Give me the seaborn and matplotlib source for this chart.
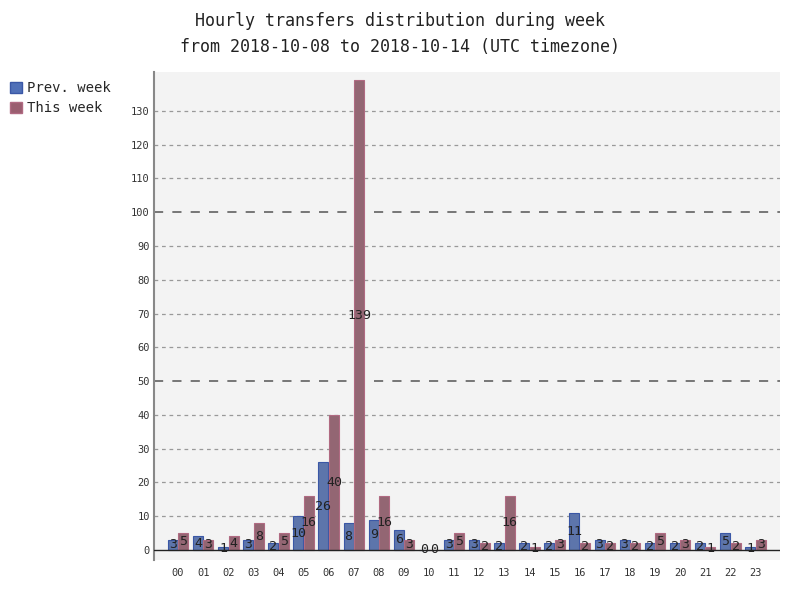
import matplotlib
matplotlib.use("Agg")
import matplotlib.pyplot as plt
import seaborn as sns
import pandas as pd
from matplotlib.patches import Patch

hours = ["00", "01", "02", "03", "04", "05", "06", "07", "08", "09", "10", "11",
         "12", "13", "14", "15", "16", "17", "18", "19", "20", "21", "22", "23"]
prev_week = [3, 4, 1, 3, 2, 10, 26, 8, 9, 6, 0, 3, 3, 2, 2, 2, 11, 3, 3, 2, 2, 2, 5, 1]
this_week = [5, 3, 4, 8, 5, 16, 40, 139, 16, 3, 0, 5, 2, 16, 1, 3, 2, 2, 2, 5, 3, 1, 2, 3]
series = ["Prev. week", "This week"]
colors = ["#5070b8", "#9a5e70"]
edges = ["#3a57a6", "#b06a82"]

df = pd.DataFrame({
    "hour": hours * 2,
    "value": prev_week + this_week,
    "series": [series[0]] * len(hours) + [series[1]] * len(hours),
})

sns.set_theme(style="white")
plt.rcParams["font.family"] = ["DejaVu Sans Mono", "DejaVu Sans"]

fig = plt.figure(figsize=(8, 6), dpi=100)
ax = fig.add_axes([0.1925, 0.0667, 0.7825, 0.8133])
ax.set_facecolor("#f3f3f3")

sns.barplot(data=df, x="hour", y="value", hue="series", order=hours,
            hue_order=series, palette=colors, width=0.84, gap=0.05,
            ax=ax, legend=False, zorder=3, linewidth=0.8)

for cont, ec in zip(ax.containers, edges):
    for bar in cont:
        bar.set_edgecolor(ec)
        h = bar.get_height()
        ax.text(bar.get_x() + bar.get_width() / 2, h / 2, f"{int(h)}",
                ha="center", va="center", fontsize=9.5, color="#222222", zorder=5)

ax.set_xlim(-0.96, 23.98)
ax.set_ylim(-2.96, 141.5)
ax.set_yticks(range(0, 131, 10))
ax.tick_params(axis="both", length=0, labelsize=7.5, colors="#333333")
ax.tick_params(axis="y", pad=3)
ax.tick_params(axis="x", pad=6)
ax.set_xlabel("")
ax.set_ylabel("")

for v in range(10, 131, 10):
    if v % 50 == 0:
        ax.axhline(v, color="#555555", lw=1.1, ls=(0, (6, 6)), zorder=1)
    else:
        ax.axhline(v, color="#999999", lw=0.9, ls=(0, (3, 3)), zorder=1)
ax.axhline(0, color="#222222", lw=1.0, zorder=4)

for s in ["top", "right", "bottom"]:
    ax.spines[s].set_visible(False)
ax.spines["left"].set_color("#888888")
ax.spines["left"].set_linewidth(1.5)

fig.text(0.5, 0.965, "Hourly transfers distribution during week",
         ha="center", va="center", fontsize=12, color="#222222")
fig.text(0.5, 0.921, "from 2018-10-08 to 2018-10-14 (UTC timezone)",
         ha="center", va="center", fontsize=12, color="#222222")

handles = [Patch(facecolor=c, edgecolor=e, linewidth=1) for c, e in zip(colors, edges)]
fig.legend(handles, series, loc="upper left", bbox_to_anchor=(0.005, 0.874),
           frameon=False, fontsize=10, handlelength=0.9, handleheight=0.9,
           handletextpad=0.35, labelspacing=0.45, borderaxespad=0)

fig.savefig("out.png", dpi=100)
